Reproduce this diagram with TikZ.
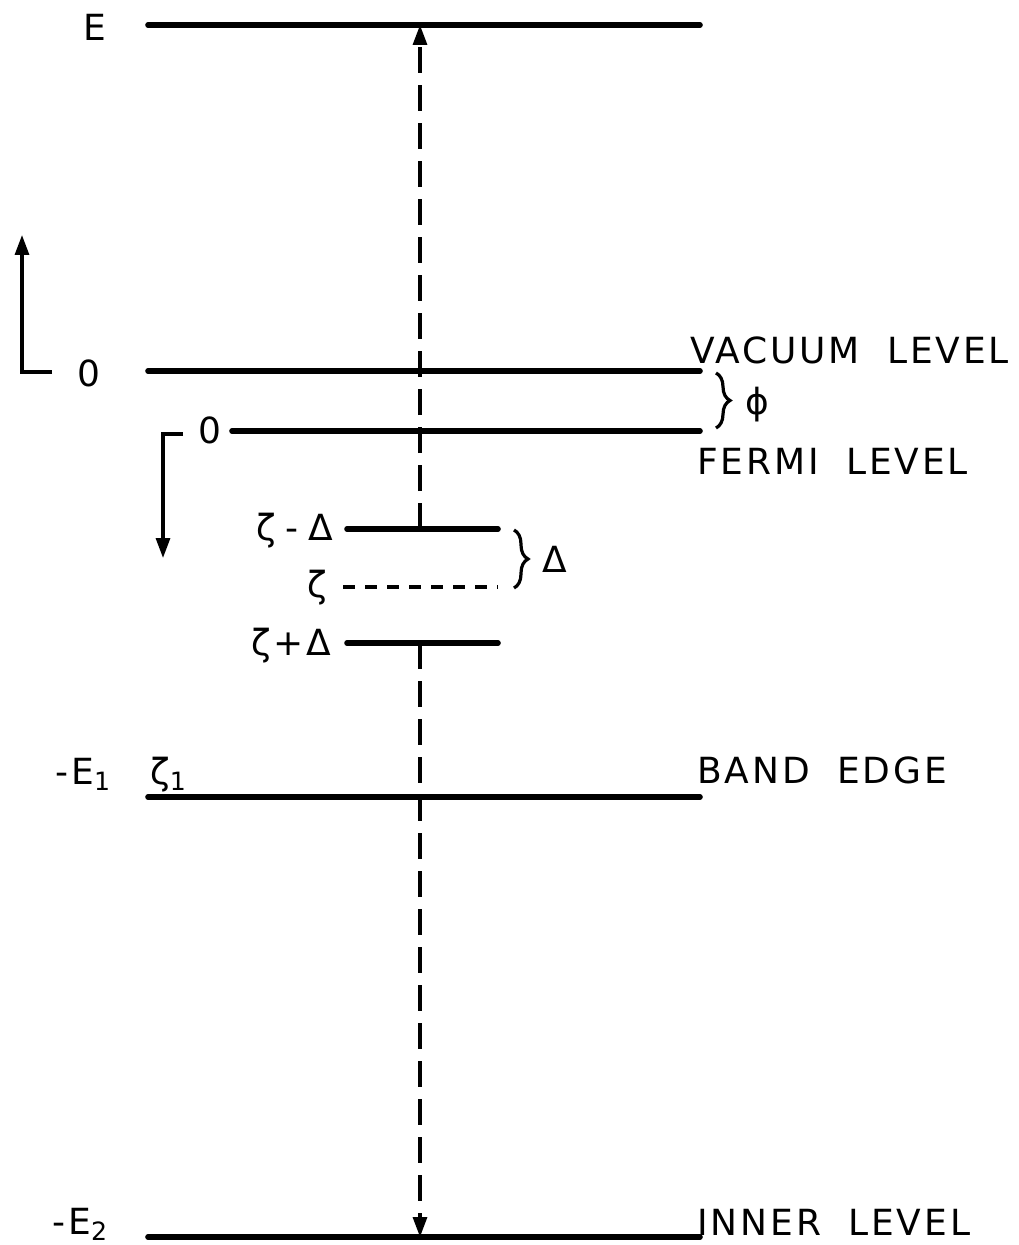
\documentclass[tikz,border=0pt]{standalone}
\usepackage{fontspec}
\setmainfont{DejaVu Sans}[LetterSpace=8, WordSpace=1.9]
\usetikzlibrary{arrows.meta, decorations.pathreplacing}
\tikzset{
  level/.style={line width=2.8pt, line cap=round},
  jump/.style={line width=1.6pt, dash pattern=on 13pt off 6pt, -{Triangle[length=10pt, width=7pt]}},
  scalearrow/.style={line width=1.6pt, -{Triangle[length=10pt, width=7pt]}},
  lbl/.style={inner sep=0pt, font=\fontsize{18}{20}\selectfont},
  bracegap/.style={line width=1.6pt, decorate, decoration={brace, amplitude=7pt}}
}
\newcommand{\longLevels}{25, 371, 797, 1237}

\begin{document}
\begin{tikzpicture}[x=0.5pt, y=-0.5pt]
  \useasboundingbox (0,0) rectangle (1018,1245);
  % long levels
  \foreach \y in \longLevels { \draw[level] (148,\y) -- (700,\y); }
  \draw[level] (232,431) -- (700,431);
  \draw[level] (347,529) -- (498,529);
  \draw[line width=1.8pt, dash pattern=on 6pt off 5pt] (343,587) -- (498,587);
  \draw[level] (347,643) -- (498,643);
  % transitions
  \coordinate (eTop) at (420,25);
  \coordinate (zMinus) at (420,529);
  \coordinate (zPlus) at (420,643);
  \coordinate (inner) at (420,1237);
  \draw[jump] (zMinus) -- (eTop);
  \draw[jump] (zPlus) -- (inner);
  % energy scales
  \draw[scalearrow] (52,372) -- (22,372) -- (22,235);
  \draw[scalearrow] (183,434) -- (163,434) -- (163,558);
  % braces
  \draw[bracegap] (716,373) -- (716,428);
  \draw[bracegap] (514,530) -- (514,588);
  % labels
  \node[lbl] (eLbl) at (95,27) {E};
  \node[lbl] (vacZero) at (89,373) {0};
  \node[lbl] (fermiZero) at (210,430) {0};
  \node[lbl, anchor=base east] (zmLbl) at (334,540) {ζ\hspace{5pt}-\hspace{5pt}Δ};
  \node[lbl, anchor=base east] (zLbl) at (327,597) {ζ};
  \node[lbl, anchor=base east] (zpLbl) at (332,655) {ζ+Δ};
  \node[lbl, anchor=base west] (deltaLbl) at (542,572) {Δ};
  \node[lbl] (phiLbl) at (757,405) {ϕ};
  \node[lbl, anchor=base west] (e1Lbl) at (55,784) {-E\textsubscript{1}};
  \node[lbl, anchor=base west] (z1Lbl) at (150,784) {ζ\textsubscript{1}};
  \node[lbl, anchor=base west] (e2Lbl) at (52,1234) {-E\textsubscript{2}};
  \node[lbl, anchor=west] (vacLbl) at (690,350) {VACUUM LEVEL};
  \node[lbl, anchor=west] (fermiLbl) at (697,461) {FERMI LEVEL};
  \node[lbl, anchor=west] (bandLbl) at (697,770) {BAND EDGE};
  \node[lbl, anchor=west] (innerLbl) at (697,1222) {INNER LEVEL};
\end{tikzpicture}
\end{document}
